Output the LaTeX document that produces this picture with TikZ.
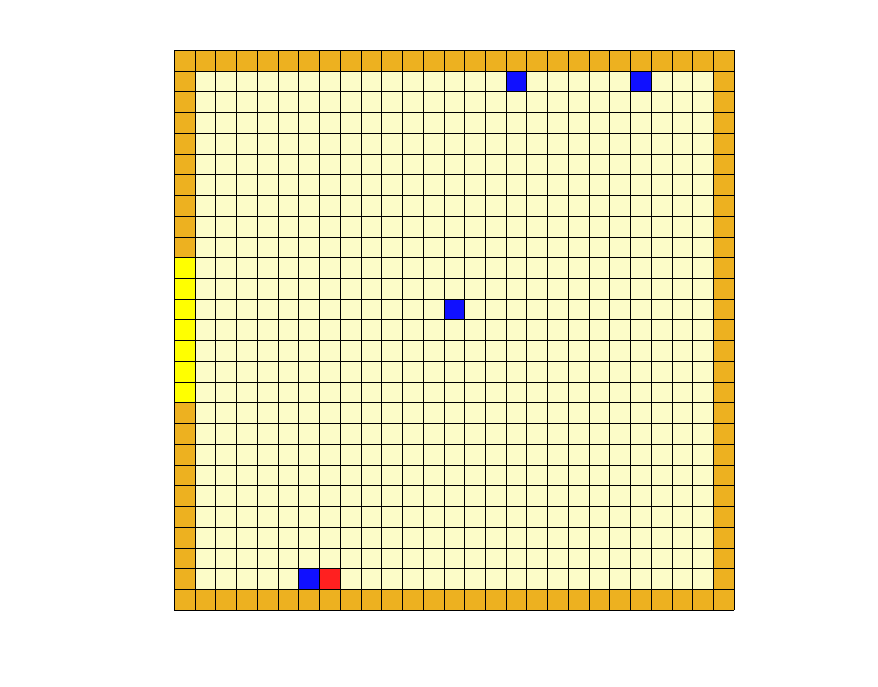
\documentclass[tikz,border=0pt]{standalone}
\usepackage{tikz}
\definecolor{wallorange}{RGB}{237,177,32}
\definecolor{floorcream}{RGB}{252,252,200}
\definecolor{agentblue}{RGB}{16,16,255}
\definecolor{goalred}{RGB}{255,32,32}
\definecolor{dooryellow}{RGB}{255,255,0}
\newcommand{\gridcell}[3]{\fill[#1] (#2,26-#3) rectangle ++(1,1);}
\begin{document}
\begin{tikzpicture}[x=0.5cm,y=0.5cm]
\useasboundingbox (-8.40,-3.66) rectangle (33.93,29.42);
% floor and walls
\fill[floorcream] (0,0) rectangle (27,27);
\fill[wallorange] (0,0) rectangle (27,1);
\fill[wallorange] (0,26) rectangle (27,27);
\fill[wallorange] (0,0) rectangle (1,27);
\fill[wallorange] (26,0) rectangle (27,27);
% opening on the left wall
\foreach \r in {10,...,16} {\gridcell{dooryellow}{0}{\r}}
% agents and goal
\gridcell{agentblue}{16}{1}
\gridcell{agentblue}{22}{1}
\gridcell{agentblue}{13}{12}
\gridcell{agentblue}{6}{25}
\gridcell{goalred}{7}{25}
\foreach \i in {0,...,27} {
  \draw[black, line width=0.5pt] (\i,0) -- (\i,27);
  \draw[black, line width=0.5pt] (0,\i) -- (27,\i);
}
\end{tikzpicture}
\end{document}
